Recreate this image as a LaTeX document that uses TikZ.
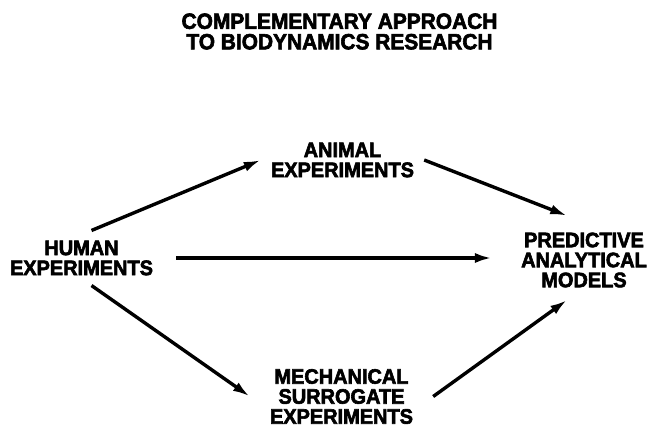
\documentclass[tikz,border=0pt]{standalone}
\usepackage{fontspec}
\newfontfamily\diagfont{Liberation Sans}[FakeStretch=0.95,BoldFeatures={FakeBold=2.8}]
\usetikzlibrary{arrows.meta}

\begin{document}
\begin{tikzpicture}[x=1pt,y=-1pt,
    box/.style={align=center,inner sep=10pt,font=\diagfont\bfseries\fontsize{21}{20}\selectfont},
    flow/.style={line width=3.4pt,-{Latex[length=17pt,width=10pt]}}]
    \useasboundingbox (0,0) rectangle (649,428);

    % Title
    \node[box,font=\diagfont\bfseries\fontsize{22}{20.5}\selectfont] (title) at (339.5,31.5) {COMPLEMENTARY APPROACH\\TO BIODYNAMICS RESEARCH};

    % Labels for the experiments
    \node[box] (human) at (81.5,258) {HUMAN\\EXPERIMENTS};
    \node[box] (animal) at (342.5,160) {ANIMAL\\EXPERIMENTS};
    \node[box,inner xsep=20pt] (mech) at (341.5,396.5) {MECHANICAL\\SURROGATE\\EXPERIMENTS};
    \node[box] (models) at (584,260) {PREDICTIVE\\ANALYTICAL\\MODELS};

    % Arrows
    \draw[flow] (human.70) -- (animal.west);
    \draw[flow,shorten >=18pt] (animal.east) -- (models.north);
    \draw[flow,shorten <=13pt,shorten >=19pt] (human.east) -- (human.east -| models.west);
    \draw[flow] (human.-70) -- (mech.west);
    \draw[flow,shorten >=4pt] (mech.east) -- (models.-110);
\end{tikzpicture}
\end{document}
